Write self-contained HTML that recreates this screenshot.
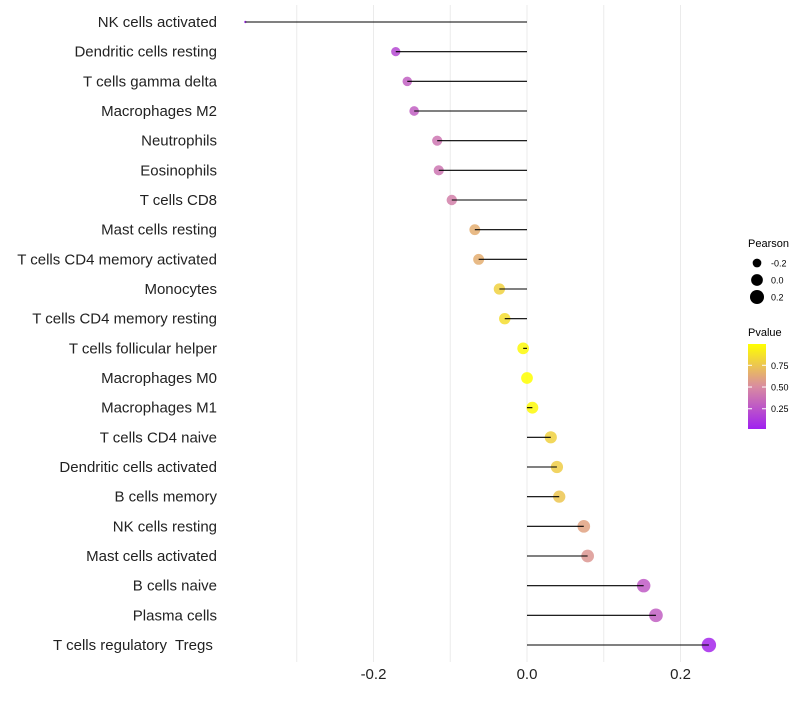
<!DOCTYPE html>
<html><head><meta charset="utf-8"><style>
body{margin:0;background:#fff}
svg text{font-family:"Liberation Sans",sans-serif;white-space:pre}
</style></head><body>
<svg id="chart" width="800" height="700" xmlns="http://www.w3.org/2000/svg" xml:space="preserve">
<g id="grid"></g>
<g id="ylabels"></g>
<g id="marks"></g>
<g id="xticks"></g>
<g id="legend">
  <text x="748" y="247" font-size="11">Pearson</text>
  <g id="sizeLegend"></g>
  <text x="748" y="336" font-size="11">Pvalue</text>
  <defs><linearGradient id="pg" x1="0" y1="1" x2="0" y2="0">
    <stop offset="0" stop-color="#A020F0"/><stop offset="0.5" stop-color="#D98CA0"/><stop offset="1" stop-color="#FFFF00"/>
  </linearGradient></defs>
  <rect x="748" y="344" width="18" height="85" fill="url(#pg)"/>
  <g id="cbTicks"></g>
</g>
</svg>
<script>
const categories=["NK cells activated","Dendritic cells resting","T cells gamma delta","Macrophages M2","Neutrophils","Eosinophils","T cells CD8","Mast cells resting","T cells CD4 memory activated","Monocytes","T cells CD4 memory resting","T cells follicular helper","Macrophages M0","Macrophages M1","T cells CD4 naive","Dendritic cells activated","B cells memory","NK cells resting","Mast cells activated","B cells naive","Plasma cells","T cells regulatory  Tregs "];
const pearson=[-0.367,-0.171,-0.156,-0.147,-0.117,-0.115,-0.098,-0.068,-0.063,-0.036,-0.029,-0.005,0.0,0.007,0.031,0.039,0.042,0.074,0.079,0.152,0.168,0.237];
const pvalues=[0.02,0.2,0.3,0.3,0.4,0.4,0.45,0.65,0.65,0.8,0.85,0.97,1.0,0.97,0.8,0.78,0.75,0.6,0.55,0.28,0.3,0.05];
const xTicks=[-0.2,0.0,0.2];
const xTickLabels=["-0.2","0.0","0.2"];
const xGrid=[-0.3,-0.2,-0.1,0.0,0.1,0.2];
const sizeLegendVals=[-0.2,0.0,0.2];
const cbTickVals=[0.25,0.5,0.75];
const cbTickLabels=["0.25","0.50","0.75"];

const NS="http://www.w3.org/2000/svg";
const x=v=>527+v*767.5;
const y=i=>22+i*29.667;
const pmin=Math.min(...pearson),pmax=Math.max(...pearson);
const radius=v=>{const t=Math.max(0,Math.min(1,(v-pmin)/(pmax-pmin)));return 1.2*(1+5*Math.sqrt(t));};
function mix(a,b,t){return a.map((c,k)=>Math.round(c+(b[k]-c)*t));}
function color(p){const lo=[160,32,240],mid=[217,140,160],hi=[255,255,0];
  const t=Math.max(0,Math.min(1,(p-0.017)/(0.995-0.017)));
  const c=t<0.5?mix(lo,mid,t*2):mix(mid,hi,(t-0.5)*2);return `rgb(${c.join(',')})`;}
const cbY=p=>429-(p-0.017)/(0.995-0.017)*85;
function el(tag,attrs,parent,text){const e=document.createElementNS(NS,tag);for(const k in attrs)e.setAttribute(k,attrs[k]);if(text!==undefined)e.textContent=text;parent.appendChild(e);return e;}

const grid=document.getElementById('grid');
xGrid.forEach(v=>{const l=el('line',{x1:x(v),x2:x(v),y1:5,y2:662,stroke:'#ebebeb','stroke-width':1},grid);

});

const yl=document.getElementById('ylabels'),marks=document.getElementById('marks');
categories.forEach((c,i)=>{
  const t=el('text',{x:217,y:y(i)+5,'font-size':15,'text-anchor':'end',fill:'#222'},yl,c);
  
  
  const pt=el('circle',{cx:x(pearson[i]),cy:y(i),r:radius(pearson[i]),fill:color(pvalues[i]),'fill-opacity':0.85},marks);
  
  
  const ln=el('line',{x1:x(0),x2:x(pearson[i]),y1:y(i),y2:y(i),stroke:'#000','stroke-width':1.1},marks);
  
  
});

const xt=document.getElementById('xticks');
xTicks.forEach((v,i)=>{const t=el('text',{x:x(v),y:679,'font-size':15,'text-anchor':'middle',fill:'#222'},xt,xTickLabels[i]);

});

const sl=document.getElementById('sizeLegend');
sizeLegendVals.forEach((v,i)=>{const cy=263+i*17;
  const c=el('circle',{cx:757,cy:cy,r:radius(v),fill:'#000'},sl);
  
  
  const t=el('text',{x:771,y:cy+3.5,'font-size':9},sl,v.toFixed(1));
  
  });

const cb=document.getElementById('cbTicks');
cbTickVals.forEach((v,i)=>{const yy=cbY(v);
  const l1=el('line',{x1:748,x2:752,y1:yy,y2:yy,stroke:'#fff','stroke-width':1},cb);
  
  
  const l2=el('line',{x1:762,x2:766,y1:yy,y2:yy,stroke:'#fff','stroke-width':1},cb);
  
  
  const t=el('text',{x:771,y:yy+3.5,'font-size':9},cb,cbTickLabels[i]);
  
  });
</script>
</body></html>
